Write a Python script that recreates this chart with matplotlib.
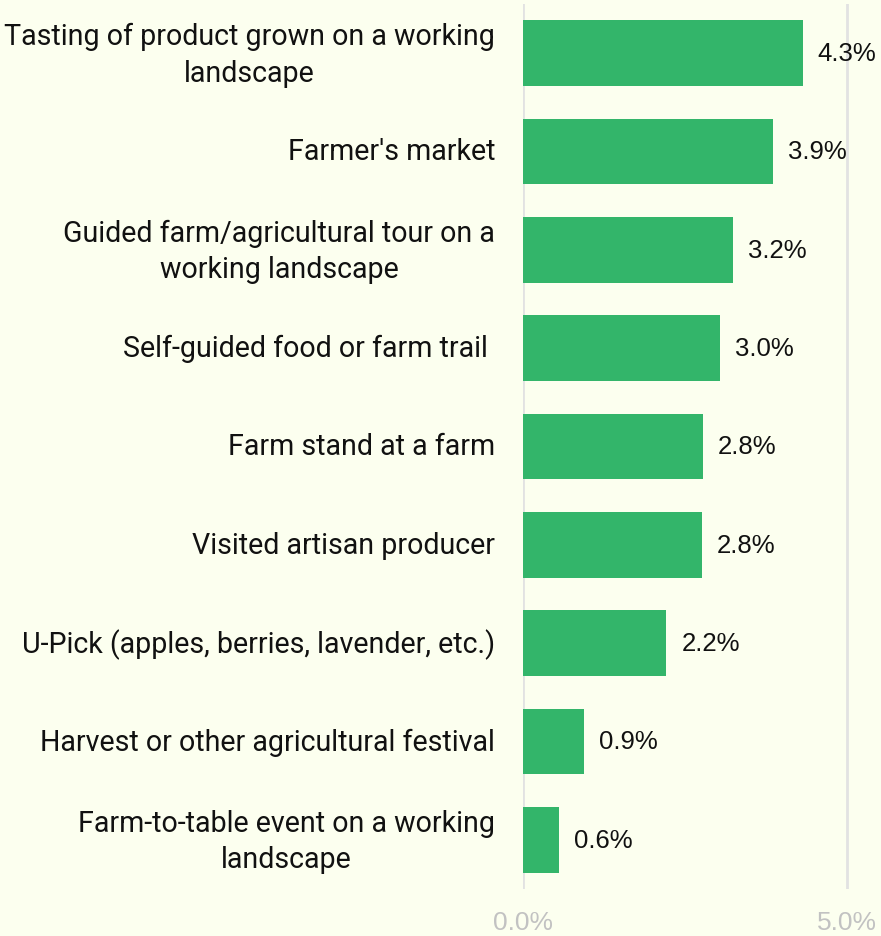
import matplotlib
matplotlib.use("Agg")
import matplotlib.pyplot as plt
from matplotlib.transforms import ScaledTranslation

# Data (share of respondents, %)
categories = [
    "Tasting of product grown on a working\nlandscape",
    "Farmer's market",
    "Guided farm/agricultural tour on a\nworking landscape",
    "Self-guided food or farm trail ",
    "Farm stand at a farm",
    "Visited artisan producer",
    "U-Pick (apples, berries, lavender, etc.)",
    "Harvest or other agricultural festival",
    "Farm-to-table event on a working\nlandscape",
]
values = [4.32, 3.86, 3.24, 3.04, 2.78, 2.76, 2.21, 0.94, 0.56]
x_ticks = [0, 5]

bg = "#fcffef"
bar_color = "#33b56a"

fig = plt.figure(figsize=(8.81, 9.37), dpi=100, facecolor=bg)
ax = fig.add_axes([0.5936, 0.0502, 0.4041, 0.9445], facecolor=bg)

y = list(range(len(categories)))
ax.barh(y, values, height=0.67, color=bar_color, zorder=2)

# value labels right of each bar
for yi, v in zip(y, values):
    ax.annotate(f"{v:.1f}%", (v, yi), xytext=(11, 0), textcoords="offset points",
                va="center", ha="left", fontsize=18.5, family="Liberation Sans",
                color="#111111", clip_on=False)

ax.set_ylim(len(categories) - 0.5, -0.5)
ax.set_xlim(0, 5.5)

ax.set_yticks(y)
ax.set_yticklabels(categories, fontsize=20.6, family="Roboto", color="#111111",
                   multialignment="center", linespacing=1.38)
ax.tick_params(axis="y", length=0, pad=20)

# nudge labels up a little so they sit centred on the bars
for lab in ax.get_yticklabels():
    dy = 6 if "\n" in lab.get_text() else 3
    lab.set_transform(lab.get_transform() + ScaledTranslation(0, dy / 100, fig.dpi_scale_trans))

ax.set_xticks(x_ticks)
ax.set_xticklabels([f"{t:.1f}%" for t in x_ticks], fontsize=19,
                   family="Liberation Sans", color="#c2c2c2")
ax.tick_params(axis="x", length=0, pad=15)

ax.grid(axis="x", color="#e2e2e2", linewidth=2, zorder=0)
for s in ax.spines.values():
    s.set_visible(False)

fig.savefig("out.png", dpi=100, facecolor=bg)
